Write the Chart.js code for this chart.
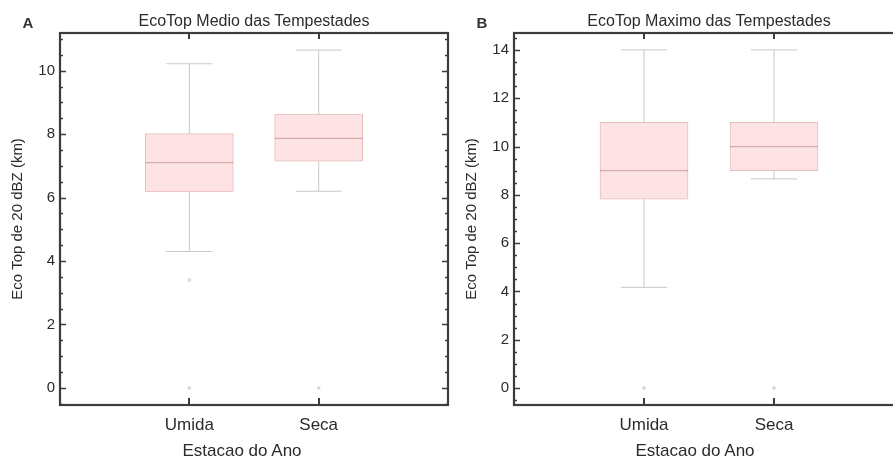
<!DOCTYPE html>
<html>
<head>
<meta charset="utf-8">
<script src="https://cdn.jsdelivr.net/npm/chart.js@4/dist/chart.umd.min.js"></script>
<style>
  html, body { margin: 0; padding: 0; background: #fff; }
  body { width: 893px; height: 462px; overflow: hidden; position: relative;
         font-family: 'Liberation Sans', Arial, Helvetica, sans-serif; color: #2b2b2b; }
  canvas { position: absolute; top: 0; }
  .txt { position: absolute; white-space: nowrap; transform: translate(-50%, -50%); }
  .letter { font-size: 15px; font-weight: bold; color: #333; }
  .title { font-size: 16px; }
  .xtitle { font-size: 17px; }
</style>
</head>
<body>
<canvas id="chartA" width="452" height="462" style="left:0px"></canvas>
<canvas id="chartB" width="454" height="462" style="left:454px"></canvas>

<div class="txt letter" style="left:28px; top:22px">A</div>
<div class="txt title" style="left:254px; top:21px">EcoTop Medio das Tempestades</div>
<div class="txt xtitle" style="left:242px; top:451px">Estacao do Ano</div>

<div class="txt letter" style="left:482px; top:22px">B</div>
<div class="txt title" style="left:709px; top:21px">EcoTop Maximo das Tempestades</div>
<div class="txt xtitle" style="left:695px; top:451px">Estacao do Ano</div>

<script>
// Seasons on the x axis (positions 1 and 2)
const categories = ['Umida', 'Seca'];

// Panel A: mean echo-top height (km)
const medioMin = [4.3, 6.2];
const medioQ1 = [6.18, 7.15];
const medioMedian = [7.1, 7.87];
const medioQ3 = [8.02, 8.63];
const medioMax = [10.22, 10.65];
const medioOutliers = [[3.4, 0], [0]];

// Panel B: maximum echo-top height (km)
const maximoMin = [4.17, 8.66];
const maximoQ1 = [7.82, 9.0];
const maximoMedian = [9.0, 10.0];
const maximoQ3 = [11.0, 11.0];
const maximoMax = [14.0, 14.0];
const maximoOutliers = [[0], [0]];

// Y-axis ranges and label steps
const yRangeA = [-0.54, 11.19];
const yRangeB = [-0.7, 14.7];
const yLabelStep = 2;
const yMinorStep = 0.5;

const FONT = "'Liberation Sans', Arial, Helvetica, sans-serif";
const TEXT = '#2b2b2b';
const BOX_FILL = '#fde3e3';
const BOX_EDGE = '#e9bcbc';
const MEDIAN = '#d9a9a9';
const WHISKER = '#cfc6c6';
const OUTLIER = 'rgba(200,200,200,0.75)';
const FRAME = '#3c3c3c';

const BOX_HALF = 0.34;   // half box width in x units
const CAP_HALF = 0.178;  // half whisker-cap width in x units

// Horizontal segments at given y values, separated by gaps
function hSegments(values, half) {
  const pts = [];
  values.forEach((v, i) => {
    const x = i + 1;
    pts.push({x: x - half, y: v}, {x: x + half, y: v}, {x: x + half, y: null});
  });
  return pts;
}

// Vertical whisker stems from box edges to the extremes
function stems(q1, q3, lo, hi) {
  const pts = [];
  q1.forEach((v, i) => {
    const x = i + 1;
    pts.push({x, y: q3[i]}, {x, y: hi[i]}, {x, y: null});
    pts.push({x, y: lo[i]}, {x, y: q1[i]}, {x, y: null});
  });
  return pts;
}

function outlierPoints(list) {
  const pts = [];
  list.forEach((vals, i) => vals.forEach(v => pts.push({x: i + 1, y: v})));
  return pts;
}

// Draws the closed frame with inward tick marks
const framePlugin = {
  id: 'frame',
  afterDraw(chart) {
    const {ctx, chartArea: a, scales: {x, y}} = chart;
    ctx.save();
    ctx.strokeStyle = FRAME;
    ctx.lineWidth = 1.5;
    // minor/major ticks on left and right edges
    const start = Math.ceil(y.min / yMinorStep) * yMinorStep;
    for (let v = start; v <= y.max + 1e-9; v += yMinorStep) {
      const py = Math.round(y.getPixelForValue(v)) + 0.5;
      const major = Math.abs(v / yLabelStep - Math.round(v / yLabelStep)) < 1e-6;
      const len = major ? 6 : 3;
      ctx.beginPath();
      ctx.moveTo(a.left, py); ctx.lineTo(a.left + len, py);
      ctx.moveTo(a.right, py); ctx.lineTo(a.right - len, py);
      ctx.stroke();
    }
    // category ticks on top and bottom edges
    ctx.lineWidth = 2;
    categories.forEach((c, i) => {
      const px = Math.round(x.getPixelForValue(i + 1));
      ctx.beginPath();
      ctx.moveTo(px, a.top); ctx.lineTo(px, a.top + 6);
      ctx.moveTo(px, a.bottom); ctx.lineTo(px, a.bottom - 7);
      ctx.stroke();
    });
    // frame
    ctx.lineWidth = 2.2;
    ctx.strokeStyle = FRAME;
    ctx.strokeRect(a.left, a.top, a.right - a.left, a.bottom - a.top);
    ctx.restore();
  }
};

function buildChart(id, yRange, lo, q1, med, q3, hi, outliers) {
  const boxes = categories.map((c, i) => ({x: i + 1, y: [q1[i], q3[i]]}));
  return new Chart(document.getElementById(id), {
    type: 'bar',
    data: {
      datasets: [
        {
          type: 'line', data: hSegments(med, BOX_HALF), order: 0,
          borderColor: MEDIAN, borderWidth: 1.2, pointRadius: 0, spanGaps: false
        },
        {
          type: 'bar', data: boxes, order: 1,
          backgroundColor: BOX_FILL, borderColor: BOX_EDGE, borderWidth: 1,
          barThickness: 88, borderSkipped: false
        },
        {
          type: 'line', data: stems(q1, q3, lo, hi), order: 2,
          borderColor: WHISKER, borderWidth: 1, pointRadius: 0, spanGaps: false
        },
        {
          type: 'line', data: hSegments(hi, CAP_HALF).concat(hSegments(lo, CAP_HALF)), order: 2,
          borderColor: WHISKER, borderWidth: 1, pointRadius: 0, spanGaps: false
        },
        {
          type: 'scatter', data: outlierPoints(outliers), order: 3,
          pointStyle: 'rect', pointRadius: 2.2, backgroundColor: OUTLIER, borderWidth: 0
        }
      ]
    },
    options: {
      responsive: false,
      animation: false,
      events: [],
      layout: {padding: {top: 33, right: 4, left: 0, bottom: 0}},
      plugins: {legend: {display: false}, tooltip: {enabled: false}, title: {display: false}},
      scales: {
        x: {
          type: 'linear', min: 0, max: 3, offset: false,
          grid: {display: false, drawTicks: false, offset: false}, border: {display: false},
          ticks: {
            stepSize: 1, padding: 10, color: TEXT, maxRotation: 0,
            font: {family: FONT, size: 17},
            callback: v => (v >= 1 && v <= categories.length ? categories[v - 1] : '')
          },
          afterFit: s => { s.height = 57; s.paddingLeft = 0; s.paddingRight = 0; }
        },
        y: {
          min: yRange[0], max: yRange[1],
          grid: {display: false, drawTicks: false}, border: {display: false},
          ticks: {
            stepSize: yLabelStep, includeBounds: false, padding: 5, color: TEXT,
            font: {family: FONT, size: 15},
            callback: v => (Math.abs(v % yLabelStep) < 1e-6 ? String(v) : '')
          },
          title: {
            display: true, text: 'Eco Top de 20 dBZ (km)', color: TEXT,
            font: {family: FONT, size: 15}, padding: {top: 9, bottom: 0}
          },
          afterFit: s => { s.width = 60; s.paddingTop = 0; s.paddingBottom = 0; }
        }
      }
    },
    plugins: [framePlugin]
  });
}

buildChart('chartA', yRangeA, medioMin, medioQ1, medioMedian, medioQ3, medioMax, medioOutliers);
buildChart('chartB', yRangeB, maximoMin, maximoQ1, maximoMedian, maximoQ3, maximoMax, maximoOutliers);
</script>
</body>
</html>
